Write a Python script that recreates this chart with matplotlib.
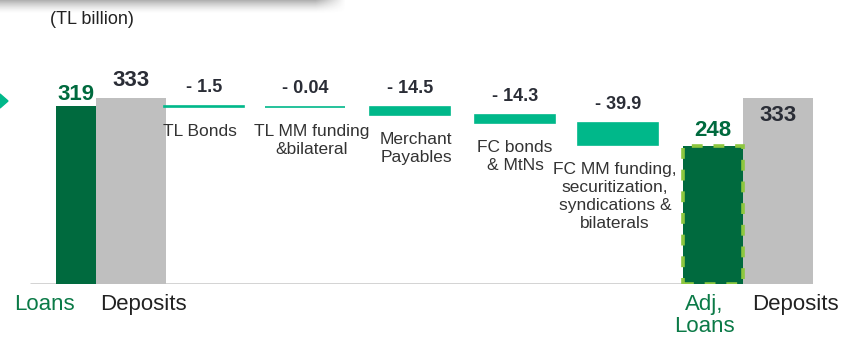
import numpy as np
import matplotlib.pyplot as plt
from matplotlib.patches import Polygon

# funding bridge from loans to adjusted loans (TL billion)
loans = 319
deposits = 333
adj_loans = 248
step_names = ['TL Bonds', 'TL MM funding\n&bilateral', 'Merchant\nPayables',
              'FC bonds\n& MtNs', 'FC MM funding,\nsecuritization,\nsyndications &\nbilaterals']
step_values = [-1.5, -0.04, -14.5, -14.3, -39.9]
bottom_labels = ['Loans', 'Deposits', 'Adj,\nLoans', 'Deposits']

# layout (figure pixels along x)
W, H = 841, 342
base_px = 284
px_per_unit = 0.558
loans_x, loans_w = 76, 40
dep_x, dep_w = 131, 70
step_x = [204, 305, 410, 515, 618]
step_w = 80
adj_x, adj_w = 713, 60
dep2_x = 778
bottom_label_x = [44, 143, 704, 795]
name_x = [200, 312, 416, 515, 615]

dark_green = '#006A3E'
teal = '#00B88A'
grey = '#BFBFBF'
light_green = '#8DC73F'
txt = '#2A2D36'
green_txt = '#0B7A47'
narrow = ['Liberation Sans Narrow', 'Liberation Sans', 'DejaVu Sans']

fig = plt.figure(figsize=(W / 100, H / 100), dpi=100)
ax = fig.add_axes([0, (H - base_px) / H, 1, base_px / H])
ax.set_xlim(0, W)
ax.set_ylim(0, base_px / px_per_unit)
ax.axis('off')

# baseline
ax.hlines(0, 30, 783, color='#C6C6C6', lw=1.8, zorder=1)

# start and end bars
ax.bar(loans_x, loans, width=loans_w, color=dark_green, zorder=2)
ax.bar(dep_x, deposits, width=dep_w, color=grey, zorder=2)
ax.bar(adj_x, adj_loans, width=adj_w, color=dark_green, edgecolor=light_green,
       lw=2.6, linestyle=(0, (3, 3)), zorder=3)
ax.bar(dep2_x, deposits, width=dep_w, color=grey, zorder=2)

ax.annotate(f'{loans}', (loans_x, loans), xytext=(0, 1), textcoords='offset points',
            ha='center', va='bottom', fontsize=16, fontweight='bold', color=dark_green, family=narrow)
ax.annotate(f'{deposits}', (dep_x, deposits), xytext=(0, 5), textcoords='offset points',
            ha='center', va='bottom', fontsize=16, fontweight='bold', color=txt, family=narrow)
ax.annotate(f'{adj_loans}', (adj_x, adj_loans), xytext=(0, 3), textcoords='offset points',
            ha='center', va='bottom', fontsize=16, fontweight='bold', color=dark_green, family=narrow)
ax.annotate(f'{deposits}', (dep2_x, deposits), xytext=(0, -5), textcoords='offset points',
            ha='center', va='top', fontsize=16, fontweight='bold', color=txt, family=narrow)

# waterfall steps
level = loans
for x, nx_, v, name in zip(step_x, name_x, step_values, step_names):
    bottom = level + v
    ax.bar(x, -v, bottom=bottom, width=step_w, color=teal, edgecolor=teal, lw=1.2, zorder=2)
    ax.annotate(f'- {abs(v):g}', (x, level), xytext=(0, 7), textcoords='offset points',
                ha='center', va='bottom', fontsize=13, fontweight='bold', color=txt, family=narrow)
    ax.annotate(name, (nx_, bottom), xytext=(0, -12), textcoords='offset points',
                ha='center', va='top', fontsize=12.5, color='#333333', family=narrow,
                linespacing=1.25)
    level = bottom

# category labels under the baseline
for lx, lab in zip(bottom_label_x, bottom_labels):
    col = green_txt if 'Loans' in lab else '#222222'
    ax.annotate(lab, (lx, 0), xytext=(0, -7), textcoords='offset points',
                ha='center', va='top', fontsize=16, color=col, family=narrow,
                linespacing=1.1, annotation_clip=False)

fig.text(50 / W, 1 - 20 / H, '(TL billion)', ha='left', va='center',
         fontsize=13, color='#222222', family=['Liberation Sans', 'DejaVu Sans'])

# header shadow strip
sh = fig.add_axes([0, 1 - 14 / H, 345 / W, 14 / H])
rows = np.linspace(1, 0, 14) ** 1.5
cols = np.clip((345 - np.arange(345)) / 30, 0, 1)
alpha = 0.55 * np.outer(rows, cols)
img = np.zeros((14, 345, 4))
img[..., :3] = 0.45
img[..., 3] = alpha
sh.imshow(img, aspect='auto', interpolation='bilinear')
sh.axis('off')

# small marker arrow on the left edge
fig.patches.append(Polygon([(0, 1 - 94 / H), (8 / W, 1 - 101 / H), (0, 1 - 108 / H)],
                           closed=True, color=teal, transform=fig.transFigure))

fig.savefig('out.png', dpi=100)
